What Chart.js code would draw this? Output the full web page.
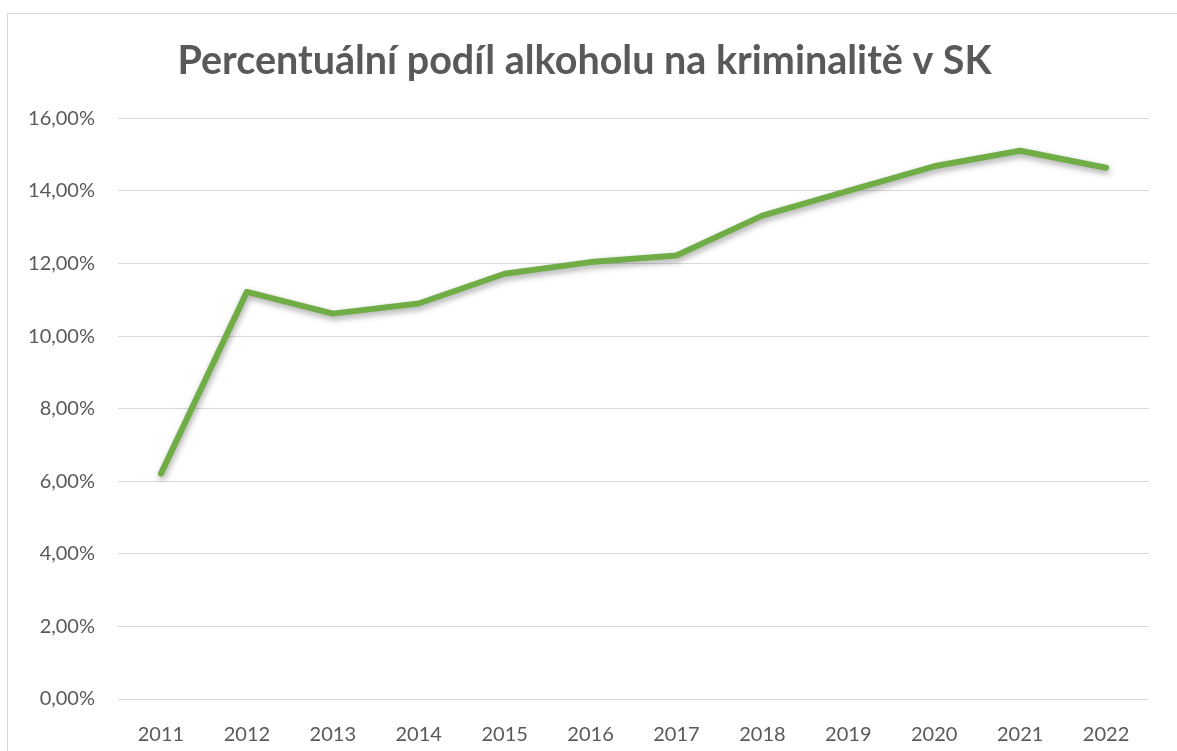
<!DOCTYPE html>
<html>
<head>
<meta charset="utf-8">
<script src="https://cdn.jsdelivr.net/npm/chart.js@4"></script>
<style>
    html, body { margin: 0; padding: 0; background: #fff; overflow: hidden; }
    #wrap { position: relative; width: 1177px; height: 751px; }
    #frame { position: absolute; left: 7px; top: 13px; width: 1200px; height: 800px; border: 1px solid #d9d9d9; box-sizing: border-box; }
    canvas { position: absolute; left: 0; top: 0; }
</style>
</head>
<body>
<div id="wrap">
    <div id="frame"></div>
    <canvas id="alcoholChart" width="1177" height="751"></canvas>
</div>
<script>
const chartTitle = 'Percentuální podíl alkoholu na kriminalitě v SK';
const years = ['2011', '2012', '2013', '2014', '2015', '2016', '2017', '2018', '2019', '2020', '2021', '2022'];
const alcoholShare = [6.21, 11.22, 10.62, 10.90, 11.72, 12.04, 12.22, 13.32, 14.00, 14.68, 15.11, 14.64];
const yTicks = [0, 2, 4, 6, 8, 10, 12, 14, 16];

const textGrey = '#595959';
const lineGreen = '#70AD47';

// soft drop shadow under the line, like the office chart
const lineShadow = {
    id: 'lineShadow',
    beforeDatasetDraw(chart) {
        const ctx = chart.ctx;
        ctx.save();
        ctx.shadowColor = 'rgba(0, 0, 0, 0.35)';
        ctx.shadowBlur = 6;
        ctx.shadowOffsetX = 1;
        ctx.shadowOffsetY = 3;
    },
    afterDatasetDraw(chart) {
        chart.ctx.restore();
    }
};

const config = {
    type: 'line',
    data: {
        labels: years,
        datasets: [{
            label: 'Podíl',
            data: alcoholShare,
            borderColor: lineGreen,
            backgroundColor: lineGreen,
            borderWidth: 6,
            borderCapStyle: 'round',
            borderJoinStyle: 'round',
            pointRadius: 0,
            tension: 0,
            fill: false
        }]
    },
    options: {
        responsive: false,
        animation: false,
        layout: { padding: { left: 20, right: 28, top: 38, bottom: 0 } },
        plugins: {
            legend: { display: false },
            tooltip: { enabled: false },
            title: {
                display: true,
                text: chartTitle,
                color: textGrey,
                font: { family: 'Lato', size: 39.5, weight: 'bold' },
                padding: { top: 0, bottom: 33 }
            }
        },
        scales: {
            x: {
                offset: true,
                grid: { display: false },
                border: { display: false },
                ticks: {
                    color: textGrey,
                    font: { family: 'Lato', size: 20 },
                    padding: 16,
                    maxRotation: 0
                },
                afterFit(scale) { scale.height = 52; }
            },
            y: {
                min: 0,
                max: 16,
                afterBuildTicks(scale) {
                    scale.ticks = yTicks.map(v => ({ value: v }));
                },
                grid: { color: '#d9d9d9', lineWidth: 1, drawTicks: false },
                border: { display: false },
                ticks: {
                    color: textGrey,
                    font: { family: 'Lato', size: 20 },
                    padding: 23,
                    callback: (value) => value.toFixed(2).replace('.', ',') + '%'
                },
                afterFit(scale) { scale.width = 98; }
            }
        }
    },
    plugins: [lineShadow]
};

const myChart = new Chart(document.getElementById('alcoholChart'), config);
</script>
</body>
</html>
